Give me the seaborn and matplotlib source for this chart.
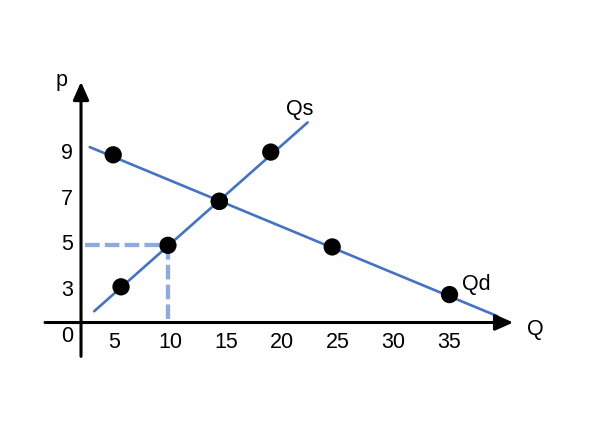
import numpy as np
import matplotlib
matplotlib.use("Agg")
import matplotlib.pyplot as plt
import seaborn as sns

# values (schematic supply/demand diagram)
supply_q = [5.6, 9.8, 14.4, 19.0]
supply_p = [3.15, 4.97, 6.9, 9.06]
demand_q = [4.9, 14.4, 24.5, 35.0]
demand_p = [8.94, 6.9, 4.9, 2.81]

supply_line_q = [3.2, 22.3]
supply_line_p = [2.08, 10.36]
demand_line_q = [2.8, 39.3]
demand_line_p = [9.28, 1.86]

x_ticks = [5, 10, 15, 20, 25, 30, 35]
y_ticks = [3, 5, 7, 9]

# where the drawn axes cross
origin_q = 2.02
origin_p = 1.585

sns.set_theme(style="white")
plt.rcParams["font.family"] = ["Liberation Sans", "DejaVu Sans"]
plt.rcParams["text.color"] = "black"

fig = plt.figure(figsize=(5.92, 4.25), dpi=100)
ax = fig.add_axes([0, 0, 1, 1])
ax.set_xlim(-5.23, 47.75)
ax.set_ylim(-2.91, 15.73)
ax.axis("off")

blue = "#4472C4"
light = "#8FAADC"

# dashed guides to (10, 5)
ax.plot([2.38, supply_q[1]], [supply_p[1], supply_p[1]], color=light, lw=3.1,
        dashes=(3.4, 1.2), zorder=1)
ax.plot([supply_q[1], supply_q[1]], [supply_p[1], origin_p], color=light, lw=3.1,
        dashes=(3.4, 1.2), zorder=1)

# curves
sns.lineplot(x=supply_line_q, y=supply_line_p, color=blue, lw=1.9, ax=ax, zorder=2)
sns.lineplot(x=demand_line_q, y=demand_line_p, color=blue, lw=1.9, ax=ax, zorder=2)

# points
sns.scatterplot(x=supply_q + demand_q, y=supply_p + demand_p, color="black",
                s=155, edgecolor="none", ax=ax, zorder=3)

# axes with arrows
arrow = dict(arrowstyle="-|>,head_length=0.9,head_width=0.4", color="black",
             lw=2.2, shrinkA=0, shrinkB=0)
ax.annotate("", xy=(40.7, origin_p), xytext=(-1.2, origin_p), arrowprops=arrow)
ax.annotate("", xy=(origin_q, 12.14), xytext=(origin_q, 0.1), arrowprops=arrow)

fs = 15.5
for q in x_ticks:
    ax.text(q, 0.69, str(q), ha="center", va="center", fontsize=fs)
for p in y_ticks:
    ax.text(0.77, p, str(p), ha="center", va="center", fontsize=fs)
ax.text(0.80, 0.99, "0", ha="center", va="center", fontsize=fs)

ax.text(0.30, 12.2, "p", ha="center", va="center", fontsize=fs)
ax.text(42.65, 1.28, "Q", ha="center", va="center", fontsize=fs)
ax.text(21.62, 10.91, "Qs", ha="center", va="center", fontsize=15.5)
ax.text(37.43, 3.25, "Qd", ha="center", va="center", fontsize=15.5)

fig.savefig("out.png", dpi=100)
